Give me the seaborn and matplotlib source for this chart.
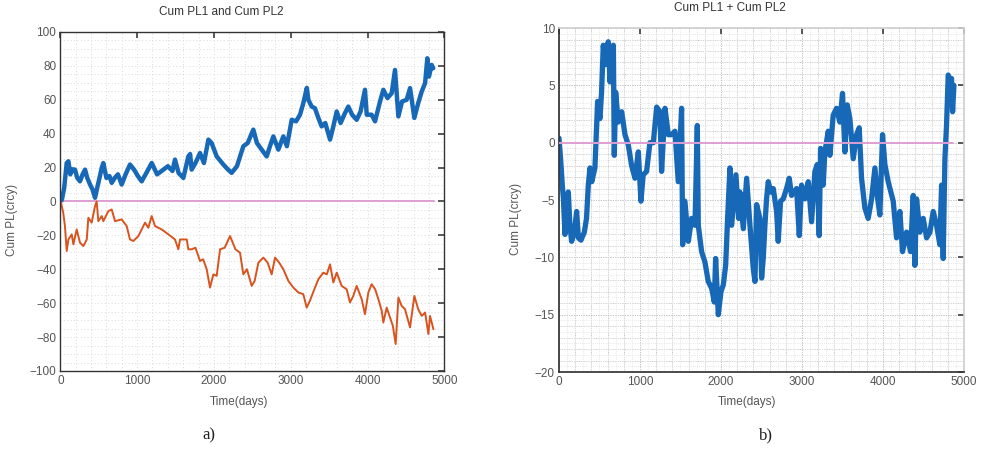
import matplotlib
matplotlib.use("Agg")
import matplotlib.pyplot as plt
import seaborn as sns
import numpy as np
import pandas as pd
from matplotlib.ticker import MultipleLocator

# ---------------- data ----------------
pl1_days = [0, 20, 50, 83, 105, 130, 160, 191, 220, 256, 290, 322, 350, 387, 420, 452, 480, 510,
            540, 560, 600, 640, 669, 710, 750, 799, 850, 907, 960, 1010, 1059, 1120, 1190, 1260,
            1342, 1400, 1460, 1493, 1540, 1602, 1667, 1690, 1710, 1760, 1819, 1870, 1928, 1970,
            2036, 2123, 2180, 2231, 2300, 2383, 2440, 2513, 2560, 2622, 2687, 2730, 2774, 2839,
            2904, 2950, 3013, 3070, 3121, 3164, 3210, 3230, 3273, 3316, 3360, 3403, 3450, 3512,
            3555, 3599, 3650, 3707, 3750, 3800, 3859, 3910, 3967, 3990, 4054, 4098, 4163, 4206,
            4260, 4315, 4358, 4402, 4450, 4510, 4554, 4610, 4660, 4706, 4750, 4779, 4800, 4835, 4856]
pl1_vals = [0, 1, 8, 22.7, 23.7, 16, 19, 18.8, 14, 11.9, 16, 18.8, 14, 10, 7, 2.2, 8, 13.9,
            20, 22.7, 13.9, 15, 11, 14, 16, 10, 16, 21.8, 18.8, 15, 11.9, 16.8, 22.7, 16,
            18.8, 20.8, 18, 24.7, 16.8, 13.9, 26.6, 28, 18.8, 22.7, 28.6, 22.7, 36.5, 34.5,
            26.6, 21.8, 19, 16.9, 20.8, 32.6, 34.5, 42.4, 34.5, 30.6, 26.6, 32.6, 38.4, 30.6,
            38.4, 32.6, 48.2, 47.3, 51.2, 58, 67, 60, 56, 55, 49.3, 44.3, 46.3, 36.5,
            44.3, 53.1, 46.3, 52.2, 56, 51.2, 48.2, 53.1, 65.9, 51.2, 51.2, 47.3, 59, 65.9,
            61, 63.9, 77.6, 50.2, 59, 60, 66.9, 49.3, 58, 64.9, 69.8, 84.5, 73.7, 80.6, 78.6]

pl2_days = [0, 9, 38, 60, 83, 105, 148, 170, 213, 256, 300, 344, 365, 408, 452, 473, 495, 539,
            560, 625, 669, 712, 799, 864, 907, 951, 1016, 1103, 1146, 1190, 1233, 1320, 1407,
            1493, 1537, 1559, 1646, 1667, 1710, 1760, 1819, 1860, 1906, 1949, 1993, 2036, 2080,
            2140, 2210, 2280, 2340, 2383, 2430, 2492, 2530, 2579, 2644, 2700, 2752, 2796, 2850,
            2904, 2970, 3034, 3100, 3164, 3208, 3250, 3316, 3360, 3425, 3470, 3512, 3555, 3599,
            3664, 3729, 3772, 3815, 3859, 3924, 3967, 4011, 4054, 4100, 4141, 4185, 4206, 4250,
            4293, 4330, 4367, 4402, 4445, 4488, 4554, 4610, 4660, 4706, 4750, 4793, 4814, 4858]
pl2_vals = [0, -0.8, -6.7, -14.5, -29.2, -22.4, -19.4, -25.3, -16.5, -24.3, -26.3, -22.4, -9.6,
            -12.5, -2.7, 0, -11.6, -8.6, -11.6, -5.7, -4.7, -11.6, -10.6, -14.5, -22.4, -23.3,
            -20.4, -12.5, -15.5, -8.6, -14.5, -16.5, -19.4, -22.4, -28.2, -22.4, -22.4, -28.2,
            -28.2, -27.3, -35.1, -34.1, -40, -50.8, -43, -43.9, -28.2, -27.3, -20.4, -28.2,
            -30.2, -43, -40, -49.8, -46.9, -36.1, -33.1, -36.1, -43, -33.1, -36.1, -40, -46.9,
            -50.8, -53.7, -54.7, -62.6, -58.6, -50.8, -45.9, -42, -43, -37.1, -47.8, -42,
            -49.8, -51.8, -59.6, -55.7, -49.8, -57.6, -66.5, -53.7, -48.8, -51.8, -57.6, -64.5,
            -71.4, -62.6, -68.4, -73.3, -84.1, -56.7, -61.6, -63.5, -74.3, -55.7, -63.5, -67.5,
            -65.5, -78.2, -67.5, -75.3]

sum_days = [0, 20, 41, 55, 74, 95, 115, 135, 156, 190, 218, 240, 272, 313, 340, 362, 383, 405,
            444, 477, 506, 526, 547, 568, 588, 609, 630, 650, 671, 683, 700, 732, 774, 815, 856,
            897, 938, 980, 1012, 1040, 1082, 1123, 1165, 1206, 1247, 1267, 1309, 1350, 1391,
            1432, 1473, 1514, 1527, 1555, 1597, 1638, 1679, 1708, 1720, 1761, 1802, 1843, 1885,
            1918, 1934, 1967, 2000, 2029, 2058, 2082, 2111, 2132, 2185, 2218, 2234, 2276, 2317,
            2358, 2399, 2420, 2440, 2481, 2502, 2522, 2543, 2563, 2584, 2615, 2646, 2687, 2707,
            2736, 2769, 2810, 2843, 2872, 2934, 2967, 2995, 3037, 3078, 3119, 3160, 3189, 3213,
            3230, 3262, 3283, 3325, 3345, 3386, 3427, 3468, 3501, 3530, 3559, 3592, 3633, 3674,
            3707, 3736, 3777, 3818, 3860, 3901, 3930, 3962, 3995, 4024, 4065, 4127, 4168, 4209,
            4242, 4292, 4341, 4374, 4394, 4415, 4456, 4497, 4539, 4580, 4621, 4662, 4703, 4724,
            4744, 4765, 4785, 4806, 4827, 4847, 4860, 4876]
sum_vals = [0.4, -1.4, -3.7, -4.9, -8, -6, -4.3, -7.2, -8.6, -7.8, -6, -8.3, -8.5, -7.8, -6.6,
            -3.7, -2.2, -3.4, -2.2, 3.6, 2.1, 4.4, 8.5, 6.8, 8.2, 8.8, 5.3, 6.8, 8.5, -1.1, 4.4,
            1.8, 2.7, 0.7, -0.2, -2, -3.1, -0.8, -5.1, -2.8, -2.5, 0, 0, 3.1, 2.7, -2.5, 3, 0.7,
            0.7, 1, -3.4, 3, -8.9, -5.1, -8.6, -6.6, -7.2, 1.5, -7.2, -9.5, -10.4, -12.1, -12.7,
            -13.9, -10.1, -15, -13, -12.4, -10.7, -6.6, -2.2, -7.2, -2.8, -6.6, -4.3, -7.5, -3.1,
            -7.2, -11, -12.1, -5.4, -6.6, -11.8, -10.1, -7.2, -4.9, -3.4, -4.3, -4, -6, -8.6,
            -5.1, -4.9, -4, -3.1, -4.6, -4, -8.1, -3.7, -4.9, -3.4, -6.9, -2.5, -1.9, -8.1,
            -0.5, -3.7, -0.8, 1, -1.1, 2.4, 3, 1.8, 4.3, -0.8, 3.3, 2.1, -1.4, 0.7,
            1.3, -3.1, -5.7, -6.6, -4.9, -2.2, -4.6, -6.3, 0.7, -1.9, -3.4, -5.1, -8.3, -6,
            -9.5, -7.8, -9.5, -4.6, -10.7, -4.9, -7.8, -6.6, -8.3, -7.8, -6, -7.2, -8.9, -3.7,
            -10.1, -1.4, 1.5, 5.9, 5.5, 5.6, 2.7, 5]

zero_days = [0, 4860]
zero_vals = [0, 0]

titles = ["Cum PL1 and Cum PL2", "Cum PL1 + Cum PL2"]
xlabel = "Time(days)"
ylabel = "Cum PL(crcy)"
captions = ["a)", "b)"]

# ---------------- style ----------------
sns.set_theme(style="white")
plt.rcParams["font.family"] = ["Liberation Sans", "DejaVu Sans"]
plt.rcParams["axes.unicode_minus"] = True

BLUE = "#1769b8"
ORANGE = "#d9531e"
PINK = "#dd9fd3"
TXT = "#555555"

fig = plt.figure(figsize=(9.81, 4.5), dpi=100)
ax1 = fig.add_axes([0.0615, 0.1756, 0.3914, 0.7533])
ax2 = fig.add_axes([0.5698, 0.1733, 0.4128, 0.7644])

# left panel
sns.lineplot(x=zero_days, y=zero_vals, ax=ax1, color=PINK, linewidth=1.4)
sns.lineplot(x=pl1_days, y=pl1_vals, ax=ax1, color=BLUE, linewidth=3.2, estimator=None)
sns.lineplot(x=pl2_days, y=pl2_vals, ax=ax1, color=ORANGE, linewidth=1.4, estimator=None)
ax1.set_xlim(0, 5000)
ax1.set_ylim(-100, 100)
ax1.set_xticks(np.arange(0, 5001, 1000))
ax1.set_yticks(np.arange(-100, 101, 20))
ax1.xaxis.set_minor_locator(MultipleLocator(200))
ax1.yaxis.set_minor_locator(MultipleLocator(5))
ax1.grid(which="both", linestyle=(0, (1, 2.5)), color="#dadada", linewidth=0.7)
for sp in ax1.spines.values():
    sp.set_color("#333333")
    sp.set_linewidth(1.0)

# right panel
sns.lineplot(x=zero_days, y=zero_vals, ax=ax2, color=PINK, linewidth=1.4)
sns.lineplot(x=sum_days, y=sum_vals, ax=ax2, color=BLUE, linewidth=3.8, estimator=None)
ax2.lines[0].set_zorder(5)
ax2.set_xlim(0, 5000)
ax2.set_ylim(-20, 10)
ax2.set_xticks(np.arange(0, 5001, 1000))
ax2.set_yticks(np.arange(-20, 11, 5))
ax2.xaxis.set_minor_locator(MultipleLocator(100))
ax2.yaxis.set_minor_locator(MultipleLocator(0.5))
ax2.set_axisbelow(True)
ax2.grid(which="major", linestyle=(0, (1, 1.5)), color="#c4c4c4", linewidth=0.7)
ax2.grid(which="minor", linestyle=(0, (1, 1.5)), color="#e0e0e0", linewidth=0.6)
for xv in np.arange(200, 5000, 200):
    ax2.axvline(xv, linestyle=(0, (1, 1.5)), color="#c4c4c4", linewidth=0.7, zorder=0)
for yv in np.arange(-19, 10, 1):
    ax2.axhline(yv, linestyle=(0, (1, 1.5)), color="#c4c4c4", linewidth=0.7, zorder=0)
ax2.spines["left"].set_color("#333333")
ax2.spines["bottom"].set_color("#333333")
ax2.spines["top"].set_color("#cfcfcf")
ax2.spines["right"].set_color("#cfcfcf")

for ax in (ax1, ax2):
    ax.set_xlabel("")
    ax.set_ylabel("")
    ax.tick_params(axis="both", which="major", labelsize=8.5, labelcolor=TXT,
                   direction="in", length=4, color="#444444",
                   left=False, bottom=False, top=True, right=True, pad=3)
    ax.tick_params(axis="both", which="minor", length=0)
    ax.set_facecolor("white")

# texts
fig.text(221 / 981, 1 - 12 / 450, titles[0], ha="center", va="center", fontsize=8.5, color="#333333")
fig.text(730 / 981, 1 - 8 / 450, titles[1], ha="center", va="center", fontsize=8.5, color="#333333")
fig.text(239 / 981, 1 - 402 / 450, xlabel, ha="center", va="center", fontsize=8.5, color=TXT)
fig.text(747 / 981, 1 - 402 / 450, xlabel, ha="center", va="center", fontsize=8.5, color=TXT)
fig.text(12 / 981, 1 - 220 / 450, ylabel, ha="center", va="center", rotation=90, fontsize=8.5, color=TXT)
fig.text(516 / 981, 1 - 219 / 450, ylabel, ha="center", va="center", rotation=90, fontsize=8.5, color=TXT)
fig.text(209 / 981, 1 - 435 / 450, captions[0], ha="center", va="center", fontsize=12,
         family=["Liberation Serif", "DejaVu Serif"], color="#222222")
fig.text(766 / 981, 1 - 435 / 450, captions[1], ha="center", va="center", fontsize=12,
         family=["Liberation Serif", "DejaVu Serif"], color="#222222")

fig.savefig("out.png", dpi=100, facecolor="white")
